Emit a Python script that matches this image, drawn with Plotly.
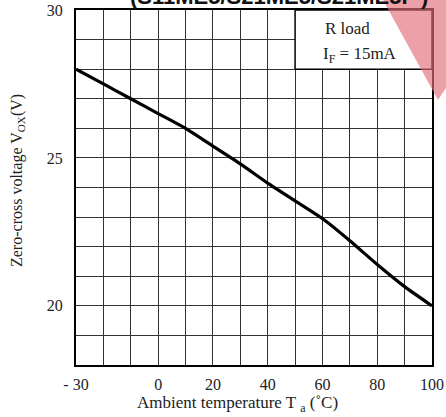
import plotly.graph_objects as go

# Data
temp = [-30, -20, -10, 0, 10, 20, 30, 40, 50, 60, 70, 80, 90, 100]
vox = [28.0, 27.5, 27.0, 26.5, 26.0, 25.4, 24.8, 24.15, 23.55, 22.95, 22.2, 21.4, 20.65, 20.0]

x_grid = list(range(-30, 101, 10))
x_labels = {-30: "- 30", 0: "0", 20: "20", 40: "40", 60: "60", 80: "80", 100: "100"}
y_grid = list(range(18, 31))
y_labels = {20: "20", 25: "25", 30: "30"}

W, H = 446, 417
L, T = 76, 10
R = W - 432
B = H - 365
pw, ph = W - L - R, H - T - B

def px(x):  # screen pixel -> paper
    return (x - L) / pw

def py(y):
    return (T + ph - y) / ph

serif = "Liberation Serif, Times New Roman, serif"

fig = go.Figure()
fig.add_trace(go.Scatter(x=temp, y=vox, mode="lines",
                         line=dict(color="black", width=3.2, shape="spline", smoothing=0.6),
                         showlegend=False, hoverinfo="skip"))

fig.update_layout(
    width=W, height=H,
    margin=dict(l=L, r=R, t=T, b=B, pad=0, autoexpand=False),
    paper_bgcolor="white", plot_bgcolor="white",
    font=dict(family=serif, size=16, color="#222"),
    xaxis=dict(range=[-30, 100], tickmode="array", tickvals=x_grid,
               ticktext=[x_labels.get(v, "") for v in x_grid],
               showgrid=True, gridcolor="#333", gridwidth=1,
               showline=True, linecolor="black", linewidth=2, mirror=True,
               ticks="", zeroline=False, ticklabelstandoff=4, automargin=False,
               tickfont=dict(family=serif, size=16, color="#222")),
    yaxis=dict(range=[18, 30], tickmode="array", tickvals=y_grid,
               ticktext=[y_labels.get(v, "") for v in y_grid],
               showgrid=True, gridcolor="#333", gridwidth=1,
               showline=True, linecolor="black", linewidth=2, mirror=True,
               ticks="", zeroline=False, ticklabelstandoff=8, automargin=False,
               tickfont=dict(family=serif, size=16, color="#222")),
)

# Condition box (gridlines hidden inside)
fig.add_shape(type="rect", xref="x", yref="y", x0=50, x1=100, y0=28, y1=30,
              fillcolor="white", line=dict(color="black", width=1.5), layer="between")

# Watermark
fig.add_shape(type="path", xref="paper", yref="paper",
              path=f"M {px(383)} {py(0)} L {px(446)} {py(0)} L {px(446)} {py(88)} L {px(438)} {py(100)} Z",
              fillcolor="rgba(225,110,120,0.65)", line=dict(width=0), layer="above")

fig.add_annotation(x=69.3, y=29.39, xref="x", yref="y", text="R load", showarrow=False,
                   xanchor="center", yanchor="middle",
                   font=dict(family=serif, size=17, color="#222"))
fig.add_annotation(x=73.7, y=28.48, xref="x", yref="y", text="I<sub>F</sub> = 15mA", showarrow=False,
                   xanchor="center", yanchor="middle",
                   font=dict(family=serif, size=17, color="#222"))

# Axis titles
fig.add_annotation(x=px(237), y=py(404), xref="paper", yref="paper",
                   xanchor="center", yanchor="middle",
                   text="Ambient temperature T <sub>a</sub> (˚C)", showarrow=False,
                   font=dict(family=serif, size=17, color="#222"))
fig.add_annotation(x=px(17), y=py(181), xref="paper", yref="paper",
                   xanchor="center", yanchor="middle",
                   text="Zero-cross voltage V<sub>OX</sub>(V)", showarrow=False, textangle=-90,
                   font=dict(family=serif, size=16, color="#222"))

# Cut-off title
fig.add_annotation(x=px(279), y=py(-4), xref="paper", yref="paper",
                   xanchor="center", yanchor="middle",
                   text="<b>(S11ME5/S21ME5/S21ME5F )</b>", showarrow=False,
                   font=dict(family="Liberation Sans, Arial, sans-serif", size=22, color="#111"))

fig.write_html("out.html", config={"displayModeBar": False},
               post_script="document.body.style.margin='0px';document.body.style.overflow='hidden';")
